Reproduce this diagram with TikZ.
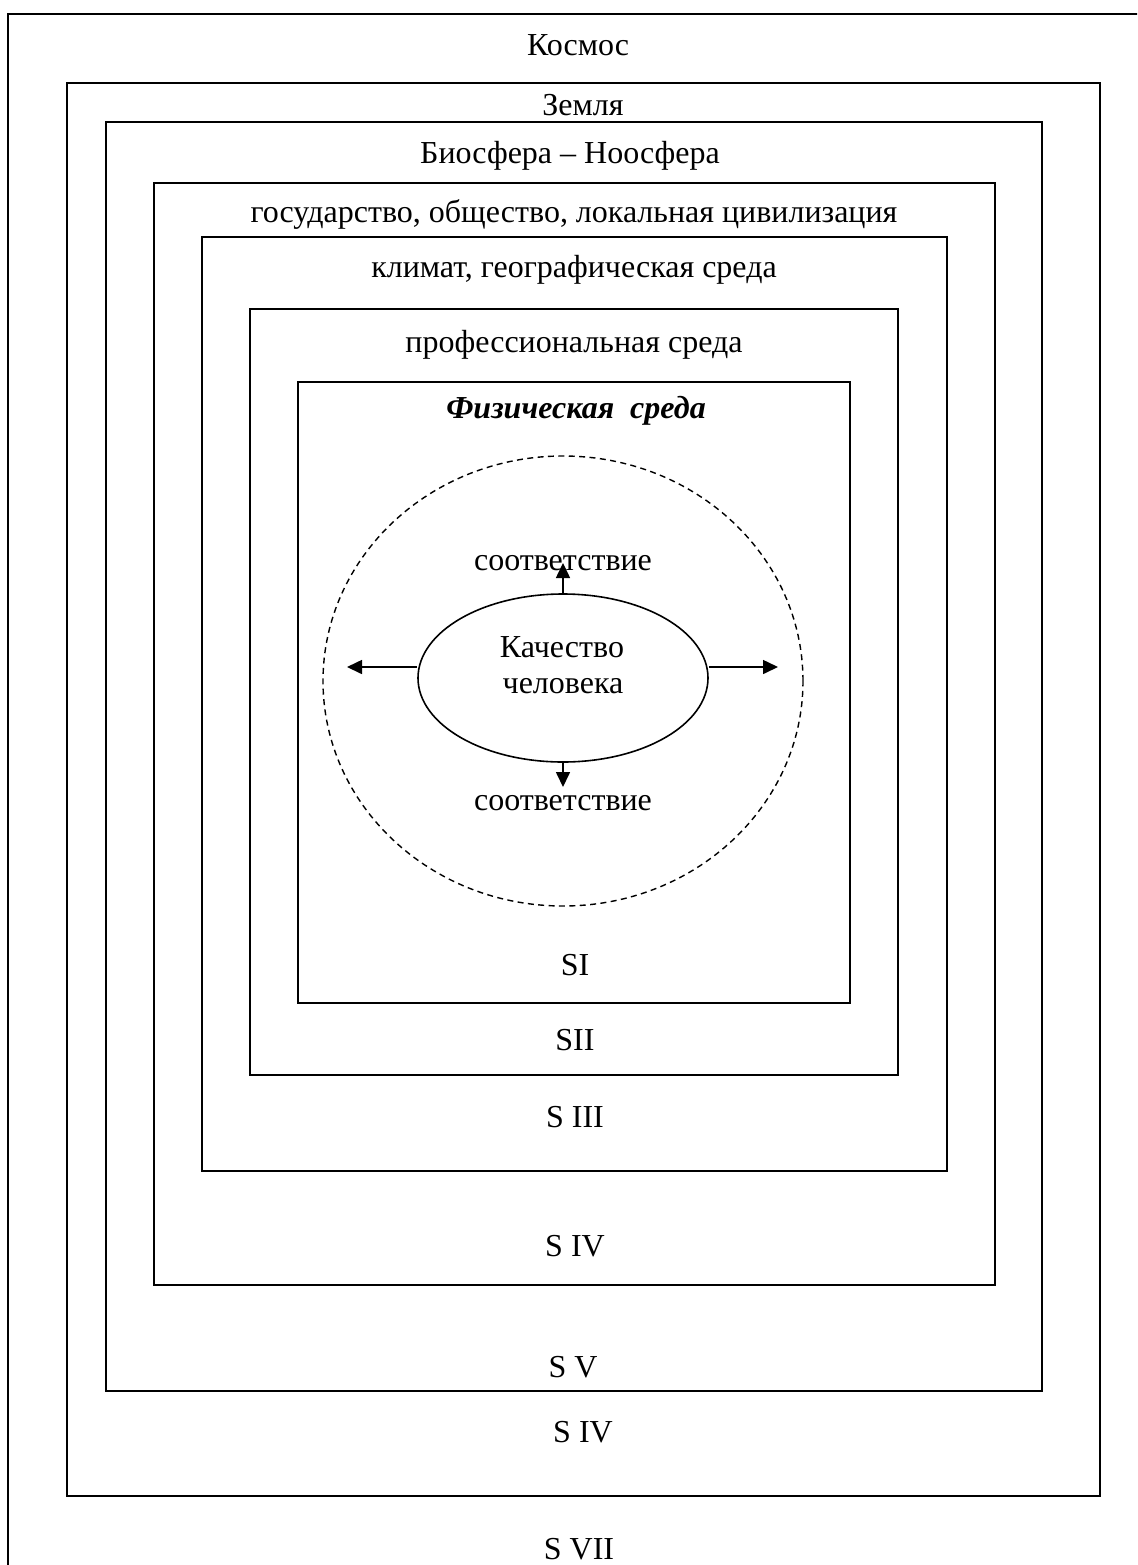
\documentclass[tikz,border=0pt]{standalone}
\usepackage{fontspec}
\setmainfont{Liberation Serif}
\usetikzlibrary{arrows.meta,shapes.geometric}

\tikzset{
  frame/.style={line width=1pt},
  lbl/.style={inner sep=0pt, anchor=base, font=\fontsize{16}{19}\selectfont},
  tip/.style={-{Triangle[length=7.5pt,width=7pt]}, line width=0.8pt},
}

\begin{document}
\begin{tikzpicture}[x=0.5pt,y=-0.5pt]
      \useasboundingbox (0,0) rectangle (1137,1565);

      % Draw the outer frame, cut off at the right and at the bottom
      \begin{scope}
          \clip (0,0) rectangle (1137,1565);
          \draw[frame] (8,14) rectangle (1160,1600);
      \end{scope}

      % Draw the nested frames
      \foreach \l/\t/\r/\b in {67/83/1100/1496, 106/122/1042/1391, 154/183/995/1285,
                               202/237/947/1171, 250/309/898/1075, 298/382/850/1003} {
          \draw[frame] (\l,\t) rectangle (\r,\b);
      }

      % Labels at the top of the frames
      \node[lbl] (cosmos) at (578,55) {Космос};
      \node[lbl] (earth) at (583,115) {Земля};
      \node[lbl] (bio) at (570,163) {Биосфера – Ноосфера};
      \node[lbl] (state) at (574,222) {государство, общество, локальная цивилизация};
      \node[lbl] (climate) at (574,277) {климат, географическая среда};
      \node[lbl] (prof) at (574,352) {профессиональная среда};
      \node[lbl, font=\fontsize{16}{19}\selectfont\bfseries\itshape] (phys) at (576,418) {Физическая\ \ среда};

      % Labels at the bottom of the frames
      \node[lbl] (s1) at (575,975) {SI};
      \node[lbl] (s2) at (575,1050) {SII};
      \node[lbl] (s3) at (575,1127) {S III};
      \node[lbl] (s4) at (575,1256) {S IV};
      \node[lbl] (s5) at (573,1377) {S V};
      \node[lbl] (s6) at (583,1442) {S IV};
      \node[lbl] (s7) at (579,1559) {S VII};

      % Dashed circle round the person
      \draw[dashed, line width=0.7pt, dash pattern=on 3pt off 2.2pt] (563,681) ellipse [x radius=120pt, y radius=112.5pt];

      % The person in the middle
      \node[ellipse, draw, line width=0.8pt, inner sep=0pt, minimum width=145pt, minimum height=84pt] (quality) at (563,678) {};
      \node[lbl] (qualityA) at (562,657) {Качество};
      \node[lbl] (qualityB) at (563,693) {человека};

      % Arrows out of the ellipse
      \coordinate (upTip) at (563,563);
      \coordinate (downTip) at (563,787);
      \coordinate (leftTip) at (347,667);
      \coordinate (rightTip) at (778,667);
      \draw[tip] (quality.north) -- (upTip);
      \draw[tip] (quality.south) -- (downTip);
      \draw[tip] (quality.west |- leftTip) -- (leftTip);
      \draw[tip] (quality.east |- rightTip) -- (rightTip);

      \node[lbl] (fitUp) at (563,570) {соответствие};
      \node[lbl] (fitDown) at (563,810) {соответствие};
\end{tikzpicture}
\end{document}
